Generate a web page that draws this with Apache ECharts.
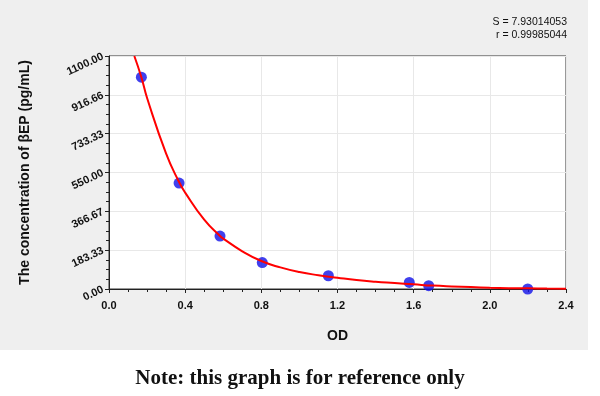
<!DOCTYPE html>
<html>
<head>
<meta charset="utf-8">
<script src="https://cdn.jsdelivr.net/npm/echarts@6/dist/echarts.min.js"></script>
<style>
html,body{margin:0;padding:0;background:#fff;}
#c{width:600px;height:396px;}
</style>
</head>
<body>
<div id="c"></div>
<script>
// Data
const standardOD = [0.170, 0.368, 0.583, 0.805, 1.152, 1.577, 1.679, 2.199];
const standardConc = [1000, 500, 250, 125, 62.5, 31.25, 15.6, 0];
const curveOD = [0.133, 0.17, 0.2, 0.3, 0.368, 0.4, 0.5, 0.583, 0.6, 0.7, 0.8, 0.9, 1.0, 1.1, 1.2, 1.3, 1.4, 1.5, 1.6, 1.7, 1.8, 1.9, 2.0, 2.1, 2.2, 2.3, 2.4];
const curveConc = [1100, 1000, 902, 639, 505, 455, 327, 250, 238, 178, 132, 102, 80, 65, 53, 42, 34, 28, 22, 16, 12, 9, 6, 4, 3, 2, 1];
const yTickLabels = ['0.00', '183.33', '366.67', '550.00', '733.33', '916.66', '1100.00'];
const xTickLabels = ['0.0', '0.4', '0.8', '1.2', '1.6', '2.0', '2.4'];
const fitStats = ['S = 7.93014053', 'r = 0.99985044'];
const yTitle = 'The concentration of βEP (pg/mL)';
const xTitle = 'OD';
const note = 'Note: this graph is for reference only';

const chart = echarts.init(document.getElementById('c'), null, {renderer: 'canvas'});
const yMax = 1100, yStep = yMax / 6;
const option = {
  animation: false,
  backgroundColor: '#ffffff',
  graphic: [
    {type: 'rect', z: -10, shape: {x: 0, y: 0, width: 588, height: 350}, style: {fill: '#efefef'}},
    {type: 'text', right: 33, top: 17, style: {text: fitStats[0], font: '10.5px "Liberation Sans", Arial', fill: '#111', textAlign: 'right'}},
    {type: 'text', right: 33, top: 30, style: {text: fitStats[1], font: '10.5px "Liberation Sans", Arial', fill: '#111', textAlign: 'right'}},
    {type: 'text', left: 'center', top: 368, style: {text: note, font: 'bold 21px "Liberation Serif", serif', fill: '#111'}}
  ],
  grid: {left: 109, right: 34, top: 56, bottom: 107, show: true, backgroundColor: '#ffffff', borderColor: '#333', borderWidth: 1},
  xAxis: {
    type: 'value', min: 0, max: 2.4, interval: 0.4,
    name: xTitle, nameLocation: 'middle', nameGap: 40,
    nameTextStyle: {fontFamily: '"Liberation Sans", Arial', fontWeight: 'bold', fontSize: 14, color: '#111'},
    axisLine: {show: true, onZero: false, lineStyle: {color: '#222', width: 1}},
    axisTick: {show: true, inside: false, length: 4, lineStyle: {color: '#222'}},
    minorTick: {show: true, splitNumber: 4, length: 3, lineStyle: {color: '#222'}},
    splitLine: {show: true, lineStyle: {color: '#e8e8e8', width: 1}},
    axisLabel: {
      margin: 11, fontFamily: '"Liberation Sans", Arial', fontWeight: 'bold', fontSize: 11, color: '#111',
      formatter: function (v) { return xTickLabels[Math.round(v / 0.4)]; }
    }
  },
  yAxis: {
    type: 'value', min: 0, max: yMax, interval: yStep,
    name: yTitle, nameLocation: 'middle', nameGap: 77,
    nameTextStyle: {fontFamily: '"Liberation Sans", Arial', fontWeight: 'bold', fontSize: 14, color: '#111'},
    axisLine: {show: true, onZero: false, lineStyle: {color: '#222', width: 1}},
    axisTick: {show: true, inside: false, length: 4, lineStyle: {color: '#222'}},
    minorTick: {show: true, splitNumber: 4, length: 3, lineStyle: {color: '#222'}},
    splitLine: {show: true, lineStyle: {color: '#e8e8e8', width: 1}},
    axisLabel: {
      rotate: 25, margin: 6, fontFamily: '"Liberation Sans", Arial', fontWeight: 'bold', fontSize: 11, color: '#111',
      formatter: function (v) { return yTickLabels[Math.round(v / yStep)]; }
    }
  },
  series: [
    {
      type: 'scatter', clip: false, z: 2,
      data: standardOD.map((x, i) => [x, standardConc[i]]),
      symbol: 'circle', symbolSize: 11,
      itemStyle: {color: '#1010e8'}
    },
    {
      type: 'line', z: 3, showSymbol: false, smooth: true,
      data: curveOD.map((x, i) => [x, curveConc[i]]),
      lineStyle: {color: '#ff0000', width: 2}
    }
  ]
};
chart.setOption(option);
</script>
</body>
</html>
